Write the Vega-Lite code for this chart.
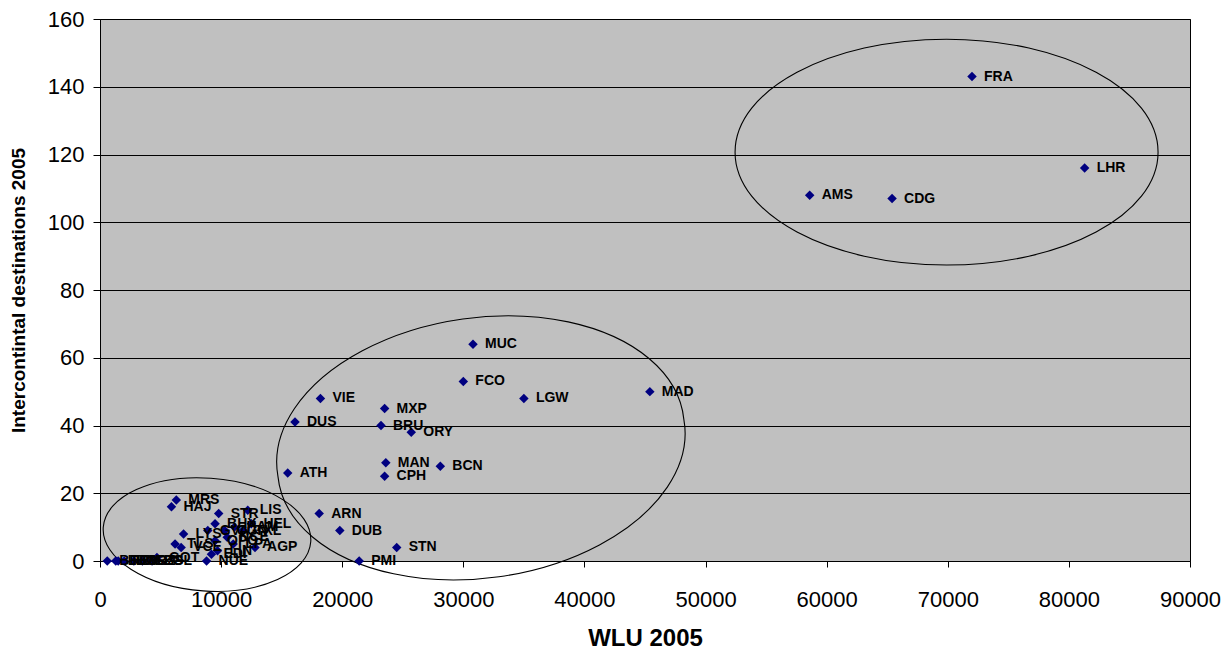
{
  "$schema": "https://vega.github.io/schema/vega-lite/v6.json",
  "width": 1090,
  "height": 542,
  "autosize": "none",
  "padding": {"left": 100, "top": 19, "right": 42, "bottom": 90},
  "background": "white",
  "config": {
    "view": {"fill": "#C0C0C0", "stroke": "black", "strokeWidth": 1},
    "font": "Liberation Sans"
  },
  "datasets": {
    "airports": [
      {"code": "FRA", "wlu": 72000, "dest": 143},
      {"code": "LHR", "wlu": 81300, "dest": 116},
      {"code": "AMS", "wlu": 58600, "dest": 108},
      {"code": "CDG", "wlu": 65400, "dest": 107},
      {"code": "MUC", "wlu": 30800, "dest": 64},
      {"code": "FCO", "wlu": 30000, "dest": 53},
      {"code": "LGW", "wlu": 35000, "dest": 48},
      {"code": "MAD", "wlu": 45400, "dest": 50},
      {"code": "VIE", "wlu": 18200, "dest": 48},
      {"code": "MXP", "wlu": 23500, "dest": 45},
      {"code": "DUS", "wlu": 16100, "dest": 41},
      {"code": "BRU", "wlu": 23200, "dest": 40},
      {"code": "ORY", "wlu": 25700, "dest": 38},
      {"code": "MAN", "wlu": 23600, "dest": 29},
      {"code": "CPH", "wlu": 23500, "dest": 25},
      {"code": "BCN", "wlu": 28100, "dest": 28},
      {"code": "ATH", "wlu": 15500, "dest": 26},
      {"code": "ARN", "wlu": 18100, "dest": 14},
      {"code": "DUB", "wlu": 19800, "dest": 9},
      {"code": "STN", "wlu": 24500, "dest": 4},
      {"code": "PMI", "wlu": 21400, "dest": 0},
      {"code": "MRS", "wlu": 6300, "dest": 18},
      {"code": "HAJ", "wlu": 5900, "dest": 16},
      {"code": "STR", "wlu": 9800, "dest": 14},
      {"code": "LIS", "wlu": 12200, "dest": 15},
      {"code": "BHX", "wlu": 9500, "dest": 11},
      {"code": "HEL", "wlu": 12500, "dest": 11},
      {"code": "LYS", "wlu": 6900, "dest": 8},
      {"code": "GVA", "wlu": 8900, "dest": 9},
      {"code": "CGN", "wlu": 10300, "dest": 9},
      {"code": "HAM", "wlu": 11100, "dest": 10},
      {"code": "TXL", "wlu": 11800, "dest": 9},
      {"code": "NCE", "wlu": 10500, "dest": 7},
      {"code": "OPO", "wlu": 9500, "dest": 6},
      {"code": "LPA", "wlu": 11000, "dest": 5},
      {"code": "AGP", "wlu": 12800, "dest": 4},
      {"code": "TLS", "wlu": 6200, "dest": 5},
      {"code": "VCE", "wlu": 6700, "dest": 4},
      {"code": "EDI", "wlu": 9200, "dest": 2},
      {"code": "LIN", "wlu": 9700, "dest": 3},
      {"code": "GOT", "wlu": 4700, "dest": 1},
      {"code": "NUE", "wlu": 8800, "dest": 0},
      {"code": "BRE", "wlu": 600, "dest": 0},
      {"code": "LUX", "wlu": 1300, "dest": 0},
      {"code": "TRN", "wlu": 1500, "dest": 0},
      {"code": "BOD", "wlu": 2000, "dest": 0},
      {"code": "GRZ", "wlu": 2800, "dest": 0},
      {"code": "SZG", "wlu": 3500, "dest": 0},
      {"code": "BSL", "wlu": 4300, "dest": 0}
    ],
    "ellipses": [
      {"group": "large", "wlu": 69900, "dest": 120.7},
      {"group": "medium", "wlu": 31450, "dest": 33.4},
      {"group": "small", "wlu": 8835, "dest": 7.8}
    ]
  },
  "encoding": {
    "x": {
      "field": "wlu",
      "type": "quantitative",
      "scale": {"domain": [0, 90000], "nice": false, "zero": false},
      "axis": {
        "title": "WLU 2005",
        "values": [0, 10000, 20000, 30000, 40000, 50000, 60000, 70000, 80000, 90000],
        "format": "d",
        "grid": false,
        "domainColor": "black",
        "tickColor": "black",
        "tickSize": 6,
        "labelFontSize": 22,
        "labelColor": "black",
        "labelPadding": 22,
        "labelFlush": false,
        "titleFontSize": 24,
        "titleFontWeight": "bold",
        "titleColor": "black",
        "titlePadding": 16
      }
    },
    "y": {
      "field": "dest",
      "type": "quantitative",
      "scale": {"domain": [0, 160], "nice": false},
      "axis": {
        "title": "Intercontintal destinations 2005",
        "values": [0, 20, 40, 60, 80, 100, 120, 140, 160],
        "grid": true,
        "gridColor": "black",
        "gridOpacity": 1,
        "gridWidth": 1,
        "domainColor": "black",
        "tickColor": "black",
        "tickSize": 7,
        "labelFontSize": 22,
        "labelColor": "black",
        "labelPadding": 9,
        "labelFlush": false,
        "titleFontSize": 19,
        "titleFontWeight": "bold",
        "titleColor": "black",
        "titlePadding": 19
      }
    }
  },
  "layer": [
    {
      "data": {"name": "ellipses"},
      "transform": [{"filter": "datum.group === 'large'"}],
      "mark": {"type": "point", "shape": "M -1 0 A 1 0.534 0 1 1 1 0 A 1 0.534 0 1 1 -1 0 Z", "size": 178929, "filled": false, "stroke": "black", "strokeWidth": 1.1, "opacity": 1}
    },
    {
      "data": {"name": "ellipses"},
      "transform": [{"filter": "datum.group === 'medium'"}],
      "mark": {"type": "point", "shape": "M -0.990 0.139 A 1 0.62 -8 1 1 0.990 -0.139 A 1 0.62 -8 1 1 -0.990 0.139 Z", "size": 168100, "filled": false, "stroke": "black", "strokeWidth": 1.1, "opacity": 1}
    },
    {
      "data": {"name": "ellipses"},
      "transform": [{"filter": "datum.group === 'small'"}],
      "mark": {"type": "point", "shape": "M -0.9976 -0.0698 A 1 0.543 4 1 1 0.9976 0.0698 A 1 0.543 4 1 1 -0.9976 -0.0698 Z", "size": 43264, "filled": false, "stroke": "black", "strokeWidth": 1.1, "opacity": 1}
    },
    {
      "data": {"name": "airports"},
      "mark": {"type": "point", "shape": "diamond", "filled": true, "color": "#000080", "size": 90, "opacity": 1}
    },
    {
      "data": {"name": "airports"},
      "mark": {"type": "text", "align": "left", "baseline": "middle", "dx": 12, "fontWeight": "bold", "fontSize": 14, "color": "black"},
      "encoding": {"text": {"field": "code"}}
    }
  ]
}
